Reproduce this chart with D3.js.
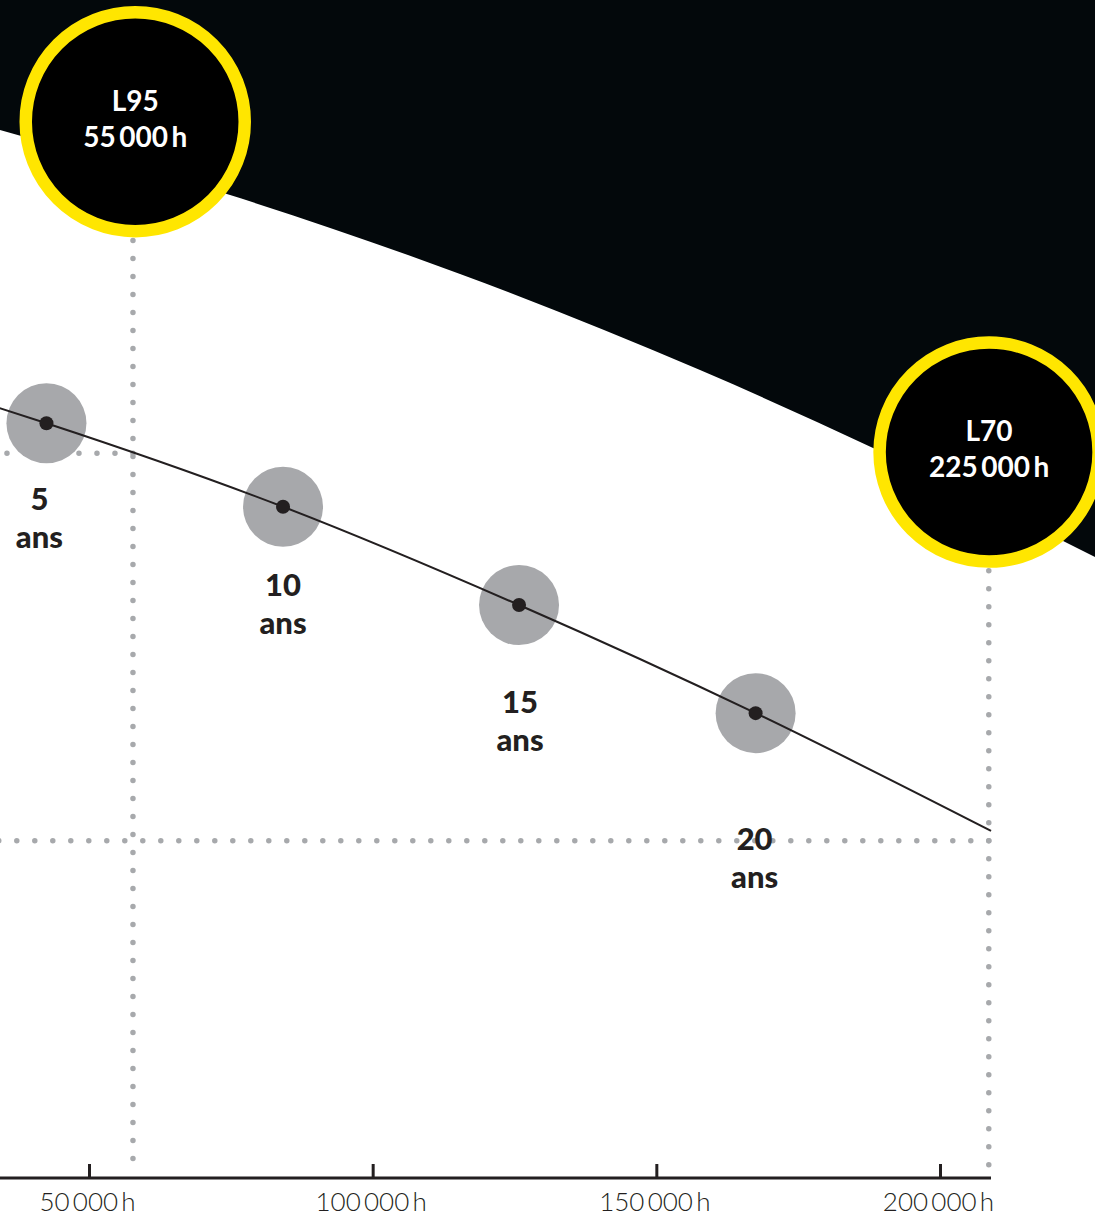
<!DOCTYPE html>
<html><head><meta charset="utf-8">
<script src="https://cdn.jsdelivr.net/npm/d3@7"></script>
<style>html,body{margin:0;padding:0;background:#fff;overflow:hidden}</style>
</head><body>
<svg id="chart" width="1095" height="1218"></svg>
<script>
// ---------- data ----------
const TS = "\u2009";
const tickValues = [50000, 100000, 150000, 200000];
const tickLabels = ["50" + TS + "000" + TS + "h", "100" + TS + "000" + TS + "h", "150" + TS + "000" + TS + "h", "200" + TS + "000" + TS + "h"];

const years = [5, 10, 15, 20];
const yearUnit = "ans";
const yearHours = [42500, 84200, 125800, 167500];
const yearFlux = [96.94, 91.55, 85.21, 78.23];

const curveHours = [30000, 42500, 84200, 125800, 167500, 209000];
const curveFlux = [98.41, 96.94, 91.55, 85.21, 78.23, 70.63];

const envelopeHours = [20000, 34300, 74300, 115400, 157700, 188200, 221700, 240000];
const envelopeFlux = [117.34, 115.86, 111.73, 106.57, 100.37, 95.34, 89.34, 85.99];

const markerNames = ["L95", "L70"];
const markerTexts = ["55" + TS + "000" + TS + "h", "225" + TS + "000" + TS + "h"];
const markerHours = [57750, 208600];
const markerFlux = [95, 70];
const bubbleHours = [58150, 208650];
const bubbleFlux = [116.4, 95.08];

// ---------- layout ----------
const W = 1095, H = 1218;
const axisY = 1178;
const x = d3.scaleLinear().domain([50000, 200000]).range([89, 940]);
const y = d3.scaleLinear().domain([70, 95]).range([840.7, 453.3]);

const svg = d3.select("#chart");
svg.append("rect").attr("width", W).attr("height", H).attr("fill", "#ffffff");

// envelope (dark area)
const env = envelopeHours.map((h, i) => ({h, f: envelopeFlux[i]}));
svg.append("path")
  .datum(env)
  .attr("fill", "#03080b")
  .attr("d", d3.area().x(d => x(d.h)).y0(-20).y1(d => y(d.f)).curve(d3.curveMonotoneX));

// dotted guides
const dotStyle = sel => sel.attr("stroke", "#a7a9ac").attr("stroke-width", 5.5)
  .attr("stroke-linecap", "round").attr("stroke-dasharray", "0 18").attr("fill", "none");

const bubbleR = 109.5, ringW = 12.5;
markerHours.forEach((h, i) => {
  const mx = x(h), my = y(markerFlux[i]);
  const by = y(bubbleFlux[i]) + bubbleR + ringW / 2 + 3;
  // horizontal to the left
  svg.append("line").attr("x1", mx).attr("y1", my).attr("x2", -10).attr("y2", my).call(dotStyle);
  // vertical from bubble down to axis
  svg.append("line").attr("x1", mx).attr("y1", by).attr("x2", mx).attr("y2", axisY - 12).call(dotStyle);
});

// x axis
const axis = d3.axisBottom(x).tickValues(tickValues).tickSize(0).tickFormat((d, i) => tickLabels[i]);
const gAxis = svg.append("g").attr("transform", `translate(0,${axisY})`);
gAxis.call(axis);
gAxis.select(".domain").remove();
gAxis.append("line").attr("x1", -5).attr("x2", 991).attr("y1", 0).attr("y2", 0)
  .attr("stroke", "#231f20").attr("stroke-width", 3);
gAxis.selectAll(".tick").append("line").attr("x1", 0).attr("x2", 0).attr("y1", 0).attr("y2", -14)
  .attr("stroke", "#231f20").attr("stroke-width", 3);
gAxis.selectAll(".tick text")
  .attr("y", 33).attr("dy", 0).attr("dx", -2)
  .attr("fill", "#231f20")
  .style("font-family", "Lato, 'Open Sans', sans-serif")
  .style("font-weight", 300)
  .style("font-size", "26px");

// gray halos
const pts = yearHours.map((h, i) => ({h, f: yearFlux[i], yr: years[i]}));
svg.append("g").selectAll("circle").data(pts).join("circle")
  .attr("cx", d => x(d.h)).attr("cy", d => y(d.f)).attr("r", 40).attr("fill", "#a7a8ab");

// curve
const cur = curveHours.map((h, i) => ({h, f: curveFlux[i]}));
svg.append("path").datum(cur)
  .attr("fill", "none").attr("stroke", "#231f20").attr("stroke-width", 2)
  .attr("d", d3.line().x(d => x(d.h)).y(d => y(d.f)).curve(d3.curveMonotoneX));

// black dots
svg.append("g").selectAll("circle").data(pts).join("circle")
  .attr("cx", d => x(d.h)).attr("cy", d => y(d.f)).attr("r", 7).attr("fill", "#231f20");

// year labels
const labelDy = [86.7, 89.5, 108, 137];
const labelDx = [-7, 0, 1, -1];
const gLab = svg.append("g")
  .style("font-family", "Lato, 'Open Sans', sans-serif")
  .style("font-weight", 900).style("font-size", "31px")
  .attr("fill", "#231f20").attr("text-anchor", "middle");
pts.forEach((d, i) => {
  const lx = x(d.h) + labelDx[i], ly = y(d.f) + labelDy[i];
  gLab.append("text").attr("x", lx).attr("y", ly).text(d.yr);
  gLab.append("text").attr("x", lx).attr("y", ly + 38).text(yearUnit);
});

// marker bubbles
markerNames.forEach((name, i) => {
  const cx = x(bubbleHours[i]), cy = y(bubbleFlux[i]);
  const g = svg.append("g");
  g.append("circle").attr("cx", cx).attr("cy", cy).attr("r", bubbleR)
    .attr("fill", "#000000").attr("stroke", "#ffe600").attr("stroke-width", ringW);
  const t = g.append("g").attr("text-anchor", "middle").attr("fill", "#ffffff")
    .style("font-family", "Lato, 'Open Sans', sans-serif").style("font-weight", 700).style("font-size", "28px");
  t.append("text").attr("x", cx).attr("y", cy - 11).text(name);
  t.append("text").attr("x", cx).attr("y", cy + 25).text(markerTexts[i]);
});
</script>
</body></html>
